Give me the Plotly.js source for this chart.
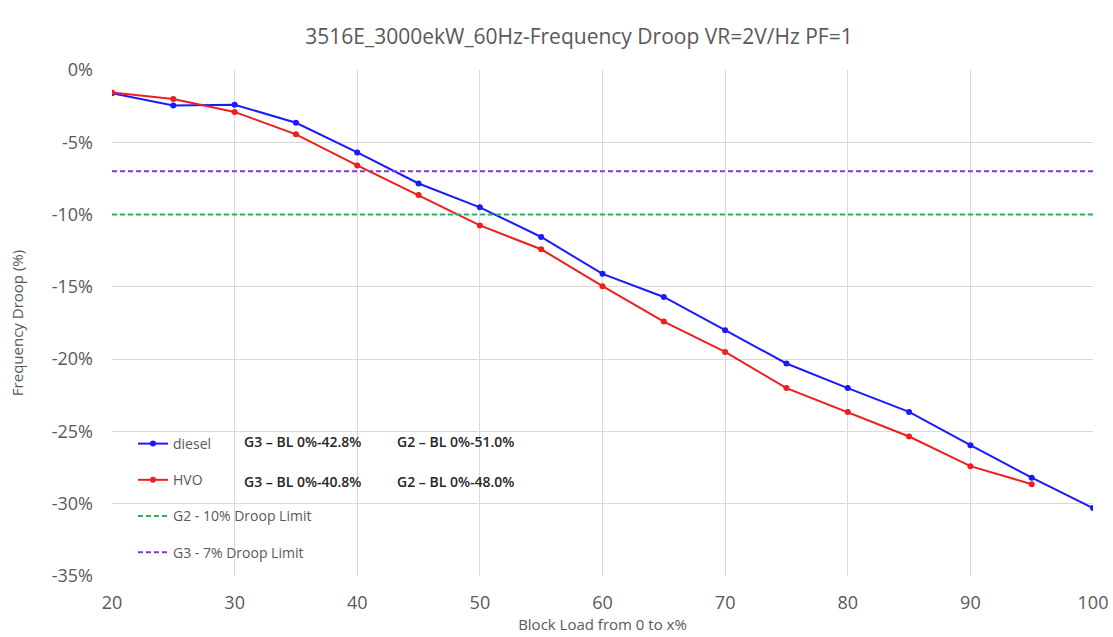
<!DOCTYPE html>
<html>
<head>
<meta charset="utf-8">
<script src="https://cdn.plot.ly/plotly-3.0.1.min.js"></script>
<style>html,body{margin:0;padding:0;background:#fff;}#chart{width:1113px;height:637px;}</style>
</head>
<body>
<div id="chart"></div>
<script>
const blockLoad = [20, 25, 30, 35, 40, 45, 50, 55, 60, 65, 70, 75, 80, 85, 90, 95, 100];
const dieselDroop = [-1.6, -2.45, -2.4, -3.65, -5.7, -7.85, -9.5, -11.55, -14.1, -15.7, -18.0, -20.3, -22.0, -23.65, -25.95, -28.2, -30.3];
const hvoLoad = [20, 25, 30, 35, 40, 45, 50, 55, 60, 65, 70, 75, 80, 85, 90, 95];
const hvoDroop = [-1.55, -2.0, -2.9, -4.45, -6.6, -8.65, -10.75, -12.4, -14.95, -17.4, -19.5, -22.0, -23.65, -25.35, -27.4, -28.65];
const limitX = [20, 100];
const g2Limit = -10;
const g3Limit = -7;
const yTickVals = [0, -5, -10, -15, -20, -25, -30, -35];
const yTickText = ["0%", "-5%", "-10%", "-15%", "-20%", "-25%", "-30%", "-35%"];
const xTickVals = [20, 30, 40, 50, 60, 70, 80, 90, 100];
const seriesNames = ["diesel", "HVO", "G2 - 10% Droop Limit", "G3 - 7% Droop Limit"];
const noteLabels = [["G3 \u2013 BL 0%-42.8%", "G2 \u2013 BL 0%-51.0%"], ["G3 \u2013 BL 0%-40.8%", "G2 \u2013 BL 0%-48.0%"]];

const FONT = "'Open Sans', sans-serif";

const traces = [
  {x: blockLoad, y: dieselDroop, name: seriesNames[0], mode: 'lines+markers', legendgroup: 'a',
   line: {color: '#1a1aff', width: 2}, marker: {color: '#1a1aff', size: 6}},
  {x: hvoLoad, y: hvoDroop, name: seriesNames[1], mode: 'lines+markers', legendgroup: 'b',
   line: {color: '#f01e1e', width: 2}, marker: {color: '#f01e1e', size: 6}},
  {x: limitX, y: limitX.map(() => g2Limit), name: seriesNames[2], mode: 'lines', legendgroup: 'c',
   line: {color: '#2db35a', width: 2, dash: '5px,3px'}},
  {x: limitX, y: limitX.map(() => g3Limit), name: seriesNames[3], mode: 'lines', legendgroup: 'd',
   line: {color: '#8a3ad0', width: 2, dash: '5px,3px'}}
];

const annotations = [];
noteLabels.forEach((row, r) => {
  row.forEach((t, c) => {
    annotations.push({
      xref: 'paper', yref: 'paper',
      x: c === 0 ? (242 - 112) / 981 : (395 - 112) / 981,
      y: (576 - (r === 0 ? 441 : 481)) / 506,
      xanchor: 'left', yanchor: 'middle', showarrow: false,
      text: t, font: {family: FONT, size: 14, color: '#262626', weight: 600}
    });
  });
});

const layout = {
  width: 1113, height: 637,
  margin: {l: 112, r: 20, t: 70, b: 61},
  paper_bgcolor: '#fff', plot_bgcolor: '#fff',
  font: {family: FONT, color: '#595959'},
  title: {text: '3516E_3000ekW_60Hz-Frequency Droop VR=2V/Hz PF=1', x: 579 / 1113, xanchor: 'center', y: 1 - 37 / 637, yanchor: 'middle',
          font: {family: FONT, size: 21, color: '#595959'}},
  xaxis: {range: [20, 100], tickvals: xTickVals, showgrid: true, gridcolor: '#d9d9d9', gridwidth: 1,
          zeroline: false, showline: false, ticks: '', ticklabelstandoff: 14, tickfont: {size: 18, color: '#595959'},
          title: {text: 'Block Load from 0 to x%', font: {size: 15, color: '#595959'}, standoff: 6}},
  yaxis: {range: [-35, 0], tickvals: yTickVals, ticktext: yTickText, showgrid: true, gridcolor: '#d9d9d9', gridwidth: 1,
          zeroline: false, showline: false, ticks: '', ticklabelstandoff: 18, tickfont: {size: 18, color: '#595959'},
          title: {text: 'Frequency Droop (%)', font: {size: 15, color: '#595959'}, standoff: 24}},
  showlegend: true,
  legend: {x: (133 - 112) / 981, y: (576 - 428) / 506, xanchor: 'left', yanchor: 'top',
           bgcolor: 'rgba(0,0,0,0)', font: {family: FONT, size: 14, color: '#595959'},
           traceorder: 'grouped', tracegroupgap: 15, itemwidth: 30},
  annotations: annotations
};

Plotly.newPlot('chart', traces, layout, {displayModeBar: false, staticPlot: true});
</script>
</body>
</html>
